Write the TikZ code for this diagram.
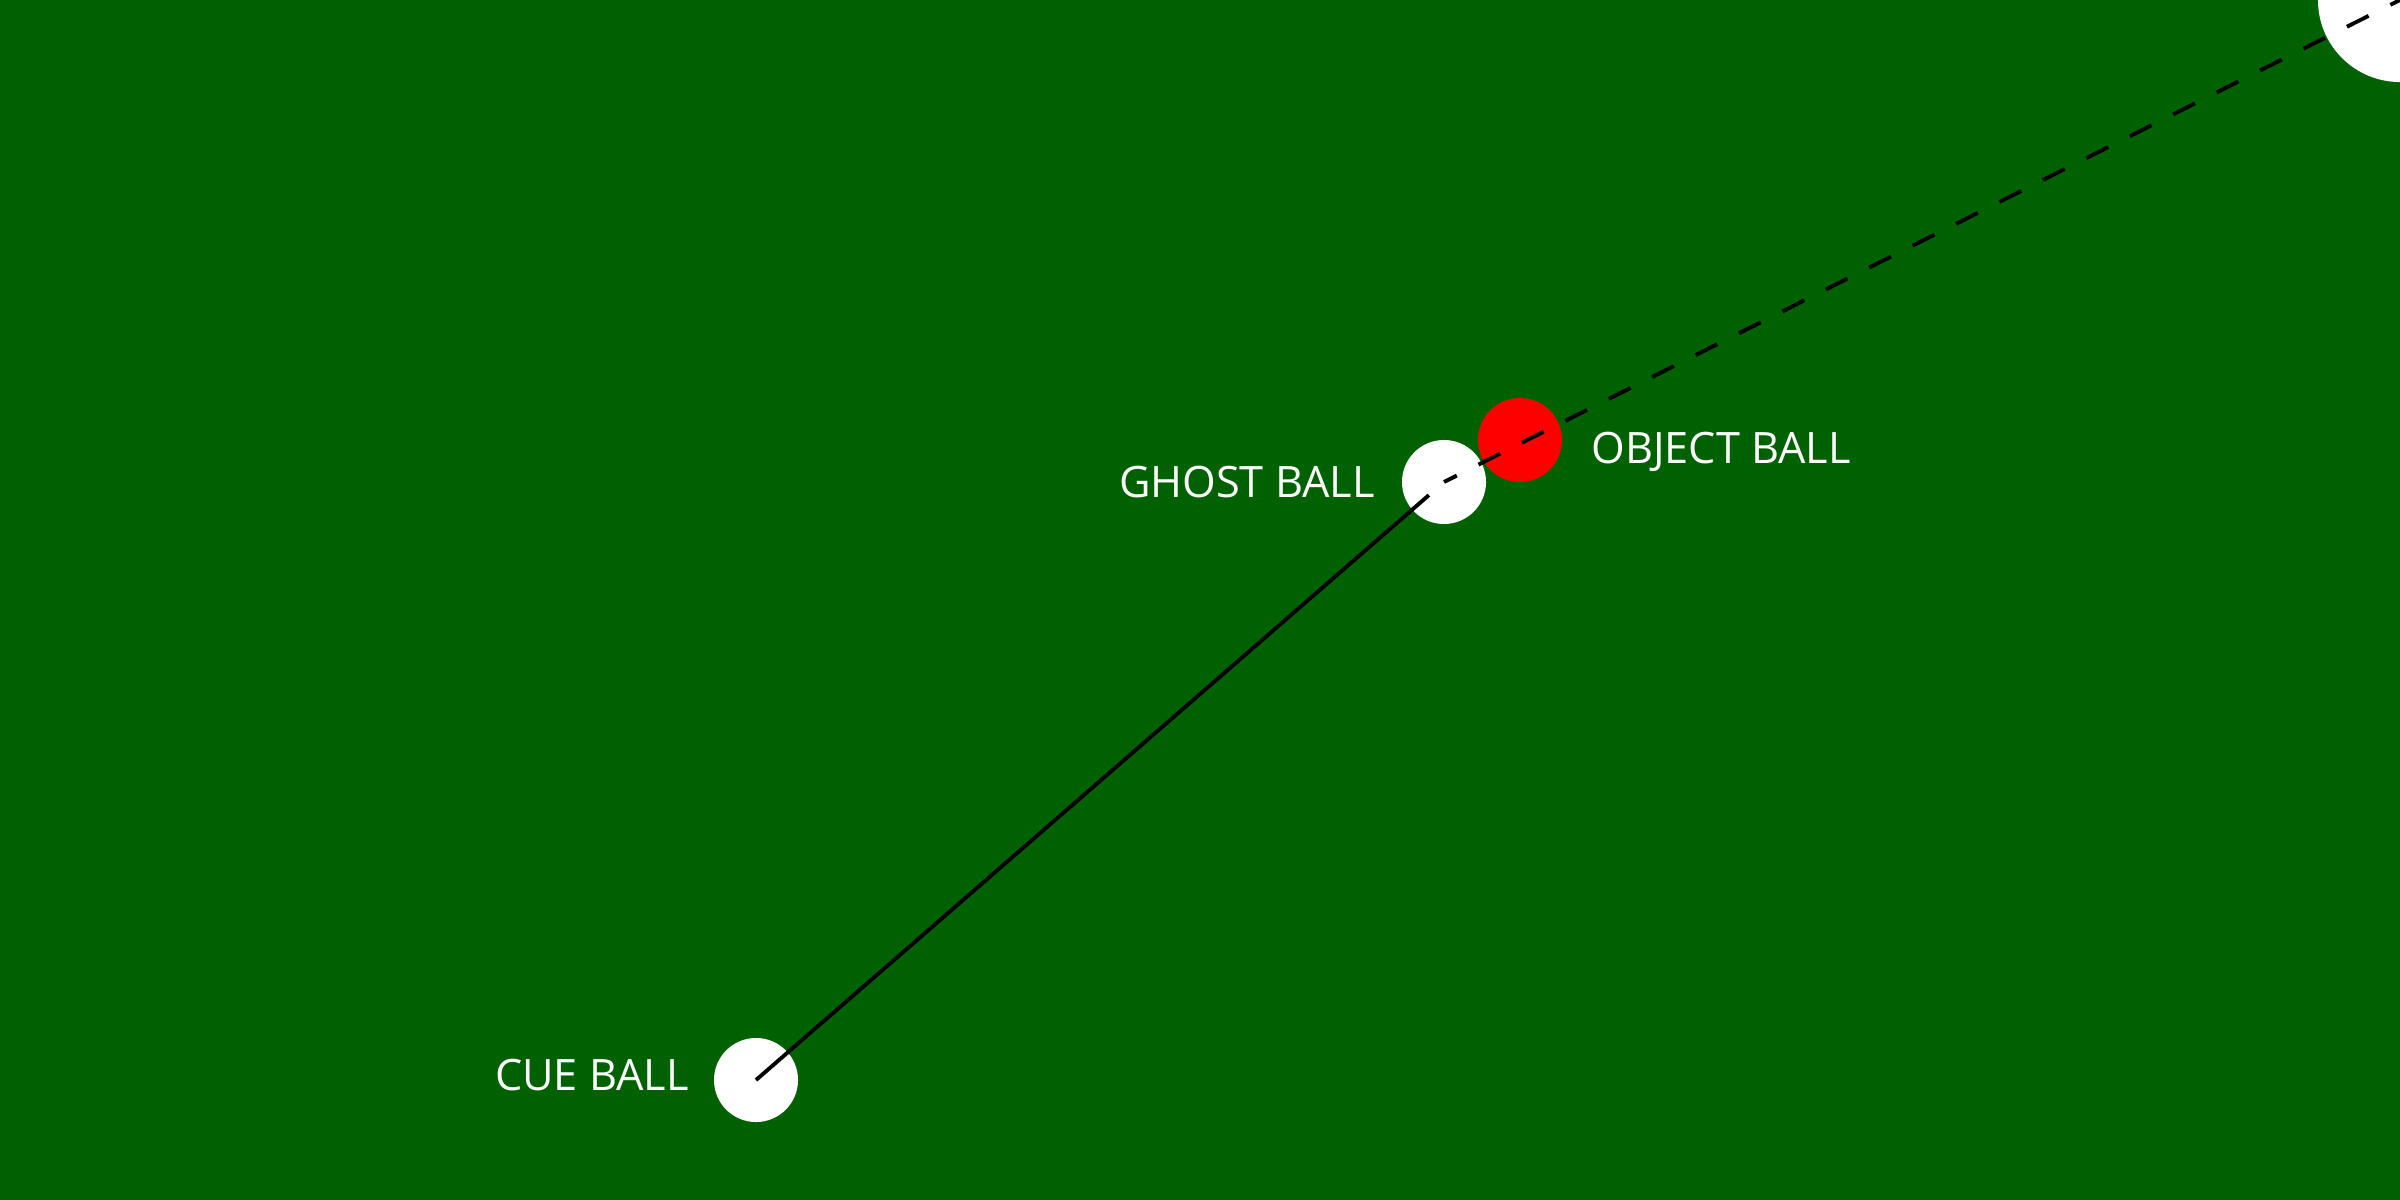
\documentclass[tikz,border=0pt]{standalone}
\usepackage{fontspec}
\setmainfont{Open Sans}
\usetikzlibrary{positioning}
\definecolor{felt}{RGB}{0,97,0}
\definecolor{objred}{RGB}{255,0,0}

\begin{document}
\begin{tikzpicture}[x=0.01cm, y=-0.01cm,
  ball/.style={circle, fill=white, inner sep=0pt, minimum size=0.84cm},
  tag/.style={text=white, inner sep=0pt, text depth=0pt, font=\fontsize{12.3}{14}\selectfont},
  aim/.style={line width=1.1pt, black}]
\useasboundingbox (0,0) rectangle (2400,1200);
\fill[felt] (0,0) rectangle (2400,1200);
\clip (0,0) rectangle (2400,1200);
\node[circle, fill=white, inner sep=0pt, minimum size=1.64cm] (pocket) at (2400,0) {};
\node[ball] (cue) at (756,1080) {};
\node[ball] (ghost) at (1444,482) {};
\node[ball, fill=objred] (object) at (1520,440) {};
\node[tag, left=0.24cm of cue, yshift=0.5mm] (cuelbl) {CUE BALL};
\node[tag, left=0.26cm of ghost] (ghostlbl) {GHOST BALL};
\node[tag, right=0.28cm of object, yshift=-0.8mm] (objectlbl) {OBJECT BALL};
\draw [aim, shorten >=0.2cm] (cue.center) -- (ghost.center);
\draw [aim, dash pattern=on 0.243cm off 0.243cm, dash phase=0.1cm] (ghost.center) -- (pocket.center);
\end{tikzpicture}
\end{document}
